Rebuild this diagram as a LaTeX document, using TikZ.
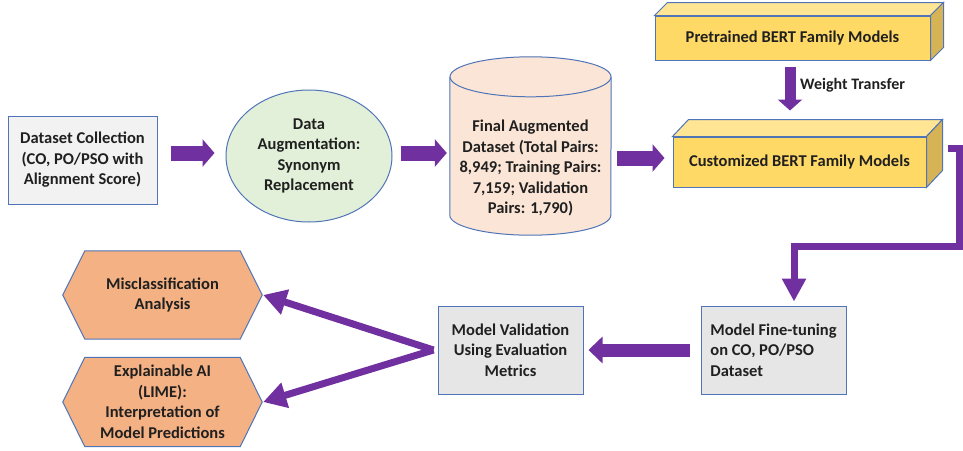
\documentclass[tikz,border=0pt]{standalone}
\usepackage{fontspec}
\setmainfont{Carlito}
\usetikzlibrary{arrows.meta,shapes.geometric}
\definecolor{purp}{HTML}{7030A0}
\definecolor{bord}{HTML}{4F74B8}
\definecolor{lgray}{HTML}{F2F2F2}
\definecolor{mgray}{HTML}{E7E6E6}
\definecolor{lgreen}{HTML}{E2F0D9}
\definecolor{peach}{HTML}{FBE5D6}
\definecolor{orng}{HTML}{F4B183}
\definecolor{yfront}{HTML}{FFD966}
\definecolor{ytop}{HTML}{FFE594}
\definecolor{yside}{HTML}{D6B354}
\definecolor{txt}{HTML}{202020}
\tikzset{
  lbl/.style={font=\fontsize{16.5}{20.5}\selectfont\bfseries, text=txt},
  boxnode/.style={lbl, draw=bord, line width=1pt, inner sep=0pt, align=center},
  ghost/.style={lbl, inner sep=0pt, align=center},
  blk/.style={purp, line width=#1},
  bigarrow/.style={draw=purp, line width=15pt, -{Triangle[width=27pt,length=12pt]}},
  thinarrow/.style={draw=purp, line width=7pt, -{Triangle[width=25pt,length=23pt]}},
}
\begin{document}
\begin{tikzpicture}[x=1pt,y=-1pt]
\useasboundingbox (0,0) rectangle (963,450);

% Dataset collection
\node[boxnode, fill=lgray, minimum width=149pt, minimum height=88pt] (dc) at (82.5,160)
  {Dataset Collection\\(CO, PO/PSO with\\Alignment Score)};

% Data augmentation ellipse
\node[boxnode, ellipse, fill=lgreen, minimum width=166pt, minimum height=132pt] (aug) at (309,156)
  {Data\\Augmentation:\\Synonym\\Replacement};

% Cylinder
\node[ghost, minimum width=161pt, minimum height=178pt] (cyl) at (530.5,146) {};
\fill[peach] ([yshift=-20pt]cyl.north west) -- ([yshift=20pt]cyl.south west)
  arc[start angle=180, end angle=360, x radius=80.5pt, y radius=20pt]
  -- ([yshift=-20pt]cyl.north east)
  arc[start angle=0, end angle=180, x radius=80.5pt, y radius=20pt] -- cycle;
\draw[bord, line width=1pt] ([yshift=-20pt]cyl.north west) -- ([yshift=20pt]cyl.south west)
  arc[start angle=180, end angle=360, x radius=80.5pt, y radius=20pt]
  -- ([yshift=-20pt]cyl.north east);
\draw[bord, line width=1pt, fill=peach] ([yshift=-20pt]cyl.north) ellipse[x radius=80.5pt, y radius=20pt];
\node[ghost] (cyltxt) at (530.5,168)
  {Final Augmented\\Dataset (Total Pairs:\\8,949; Training Pairs:\\7,159; Validation\\Pairs: 1,790)};

% Pretrained BERT (3D box)
\node[boxnode, fill=yfront, minimum width=275pt, minimum height=44pt] (pre) at (792.5,38) {};
\draw[bord, line width=1pt, fill=ytop] (pre.north west) -- ++(13pt,13pt) -- ([shift={(13pt,13pt)}]pre.north east) -- (pre.north east) -- cycle;
\draw[bord, line width=1pt, fill=yside] (pre.north east) -- ++(13pt,13pt) -- ([shift={(13pt,13pt)}]pre.south east) -- (pre.south east) -- cycle;
\node[ghost] at (pre.center) {Pretrained BERT Family Models};

% Customized BERT (3D box)
\node[boxnode, fill=yfront, minimum width=253pt, minimum height=50pt] (cust) at (799.5,162) {};
\draw[bord, line width=1pt, fill=ytop] (cust.north west) -- ++(16pt,17pt) -- ([shift={(16pt,17pt)}]cust.north east) -- (cust.north east) -- cycle;
\draw[bord, line width=1pt, fill=yside] (cust.north east) -- ++(16pt,17pt) -- ([shift={(16pt,17pt)}]cust.south east) -- (cust.south east) -- cycle;
\node[ghost] at (cust.center) {Customized BERT Family Models};

% Weight transfer label
\node[lbl, anchor=west, inner sep=0pt, font=\fontsize{16}{19}\selectfont\bfseries] (wt) at (800,85) {Weight Transfer};

% Fine-tuning & validation
\node[boxnode, fill=mgray, minimum width=145pt, minimum height=88pt, align=left] (fine) at (773.5,350)
  {Model Fine-tuning\\on CO, PO/PSO\\Dataset};
\node[boxnode, fill=mgray, minimum width=145pt, minimum height=88pt] (val) at (510.5,350)
  {Model Validation\\Using Evaluation\\Metrics};

% Hexagons
\node[ghost, minimum width=199pt, minimum height=88pt] (mis) at (162.5,295) {};
\node[ghost, minimum width=199pt, minimum height=89pt] (xai) at (162.5,402) {};
\foreach \h in {mis,xai}{
  \draw[bord, line width=1pt, fill=orng] (\h.west) -- ([xshift=22pt]\h.north west) -- ([xshift=-22pt]\h.north east)
    -- (\h.east) -- ([xshift=-22pt]\h.south east) -- ([xshift=22pt]\h.south west) -- cycle;
}
\node[ghost] at (mis.center) {Misclassification\\Analysis};
\node[ghost] at (xai.center) {Explainable AI\\(LIME):\\Interpretation of\\Model Predictions};

% Arrows
\draw[bigarrow] ([shift={(13pt,7pt)}]dc.east) -- ([shift={(-11pt,3pt)}]aug.west);
\draw[bigarrow] ([shift={(8pt,3pt)}]aug.east) -- ([shift={(-3pt,-7pt)}]cyl.west);
\draw[bigarrow] ([shift={(6pt,-12pt)}]cyl.east) -- ([shift={(-8pt,4pt)}]cust.west);
\draw[draw=purp, line width=11pt, -{Triangle[width=24pt,length=11pt]}] ([shift={(-2.5pt,-6pt)}]pre.south) -- ([shift={(-9.5pt,26pt)}]cust.north);
\draw[draw=purp, line width=13pt, -{Triangle[width=26pt,length=14pt]}] ([xshift=-11pt]fine.west) -- ([xshift=5pt]val.east);

\coordinate (cstart) at ([shift={(21pt,14pt)}]cust.east);
\coordinate (rc) at (959.5,246);
\coordinate (ftop) at ([shift={(20.5pt,4pt)}]fine.north);
\draw[draw=purp, line width=7pt, line join=miter, -{Triangle[width=23pt,length=23pt]}] (cstart) -| (rc) -| (ftop);

\draw[thinarrow] ([xshift=-4pt]val.west) -- ([xshift=1pt]mis.east);
\draw[thinarrow] ([xshift=-4pt]val.west) -- ([xshift=1pt]xai.east);
\end{tikzpicture}
\end{document}
